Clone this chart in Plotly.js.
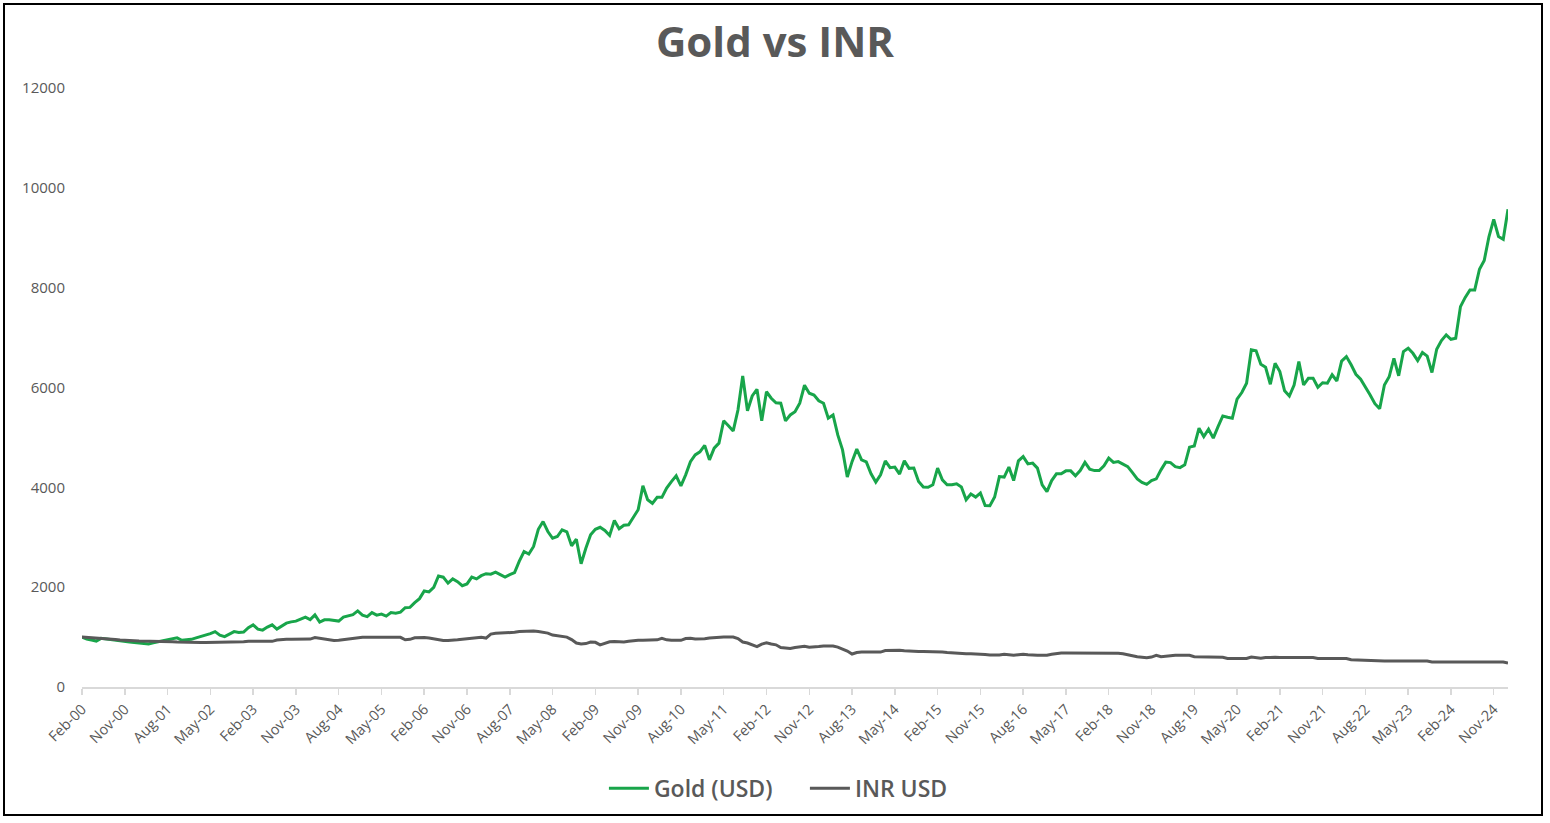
<!DOCTYPE html>
<html>
<head>
<meta charset="utf-8">
<script src="https://cdn.plot.ly/plotly-3.0.1.min.js"></script>
<style>
  html, body { margin: 0; padding: 0; background: #fff; }
  #frame {
    position: absolute; left: 3px; top: 3px;
    width: 1540px; height: 813px;
    border: 2px solid #000; box-sizing: border-box;
  }
  #chart { position: absolute; left: 0; top: 0; width: 1550px; height: 823px; }
</style>
</head>
<body>
<div id="chart"></div>
<div id="frame"></div>
<script>
// monthly series, Feb-2000 .. Feb-2025, both rebased to 1000
const startYear = 2000;
const startMonth = 1; // Feb
const monthNames = ['Jan', 'Feb', 'Mar', 'Apr', 'May', 'Jun', 'Jul', 'Aug', 'Sep', 'Oct', 'Nov', 'Dec'];

const goldUsd = [
    1000, 960, 940, 920, 975, 960, 945, 930, 920, 910,
    900, 890, 880, 865, 860, 885, 905, 925, 945, 975,
    985, 935, 940, 955, 985, 1010, 1040, 1070, 1110, 1040,
    1010, 1060, 1110, 1090, 1100, 1190, 1245, 1160, 1140, 1200,
    1245, 1160, 1220, 1280, 1305, 1320, 1360, 1400, 1350, 1445,
    1300, 1345, 1345, 1330, 1320, 1400, 1420, 1450, 1525, 1440,
    1410, 1490, 1440, 1460, 1420, 1490, 1480, 1500, 1590, 1595,
    1690, 1770, 1925, 1905, 1995, 2225, 2200, 2080, 2165, 2110,
    2030, 2065, 2200, 2165, 2230, 2270, 2260, 2300, 2250, 2200,
    2250, 2290, 2520, 2715, 2665, 2815, 3160, 3315, 3115, 2980,
    3015, 3150, 3110, 2830, 2960, 2470, 2780, 3050, 3160, 3200,
    3135, 3035, 3335, 3170, 3240, 3250, 3400, 3550, 4030, 3750,
    3680, 3800, 3800, 3985, 4115, 4230, 4030, 4250, 4515, 4650,
    4710, 4840, 4550, 4785, 4885, 5335, 5235, 5130, 5550, 6230,
    5535, 5830, 5965, 5335, 5915, 5785, 5695, 5685, 5330, 5450,
    5515, 5685, 6045, 5885, 5850, 5735, 5685, 5385, 5450, 5050,
    4750, 4205, 4515, 4765, 4550, 4510, 4270, 4105, 4250, 4530,
    4395, 4405, 4265, 4530, 4380, 4385, 4115, 4005, 4000, 4050,
    4385, 4150, 4050, 4050, 4070, 4005, 3750, 3865, 3805, 3885,
    3635, 3630, 3805, 4215, 4205, 4405, 4135, 4530, 4615, 4470,
    4485, 4385, 4050, 3915, 4135, 4270, 4270, 4330, 4330, 4230,
    4335, 4500, 4365, 4335, 4335, 4430, 4585, 4500, 4515, 4470,
    4415, 4295, 4170, 4100, 4060, 4135, 4170, 4350, 4505, 4495,
    4415, 4395, 4450, 4805, 4830, 5185, 5015, 5165, 4985, 5215,
    5430, 5405, 5385, 5765, 5900, 6085, 6755, 6735, 6465, 6405,
    6065, 6485, 6320, 5935, 5830, 6050, 6520, 6050, 6185, 6185,
    6005, 6095, 6085, 6255, 6130, 6530, 6620, 6455, 6265, 6165,
    6020, 5850, 5675, 5575, 6050, 6215, 6585, 6235, 6720, 6785,
    6685, 6540, 6700, 6630, 6300, 6765, 6940, 7055, 6965, 6985,
    7620, 7805, 7955, 7955, 8370, 8545, 9025, 9370, 9025, 8970,
    9570
];

const inrUsd = [
    1000, 995, 990, 985, 975, 970, 960, 950, 940, 930,
    925, 925, 920, 920, 915, 915, 915, 910, 910, 905,
    900, 895, 890, 890, 890, 890, 890, 890, 890, 890,
    890, 890, 890, 890, 905, 915, 915, 915, 915, 915,
    915, 940, 955, 955, 955, 955, 955, 955, 960, 990,
    975, 955, 940, 930, 935, 950, 960, 980, 995, 995,
    995, 995, 995, 995, 995, 995, 995, 995, 945, 955,
    985, 995, 990, 980, 965, 935, 930, 930, 930, 945,
    955, 965, 970, 975, 995, 980, 1060, 1075, 1080, 1080,
    1080, 1095, 1110, 1115, 1120, 1120, 1110, 1100, 1080, 1040,
    1025, 1020, 1000, 950, 880, 860, 870, 900, 895, 845,
    870, 905, 910, 905, 900, 915, 930, 935, 935, 935,
    935, 945, 975, 945, 935, 935, 935, 970, 975, 960,
    955, 965, 980, 990, 1000, 1000, 1000, 1000, 970, 900,
    880, 850, 810, 860, 885, 860, 845, 790, 775, 770,
    790, 805, 815, 795, 795, 810, 820, 820, 820, 800,
    760, 720, 660, 690, 700, 700, 700, 700, 700, 730,
    735, 735, 735, 725, 715, 710, 710, 710, 710, 710,
    710, 700, 690, 680, 675, 670, 665, 665, 665, 660,
    650, 640, 635, 640, 655, 645, 635, 645, 655, 645,
    635, 635, 635, 635, 655, 675, 682, 682, 682, 682,
    682, 682, 682, 682, 682, 682, 682, 682, 675, 665,
    650, 625, 605, 590, 585, 600, 635, 605, 615, 635,
    635, 635, 635, 635, 605, 605, 605, 605, 605, 600,
    595, 570, 570, 570, 570, 570, 600, 590, 575, 590,
    600, 595, 590, 590, 590, 590, 590, 590, 590, 590,
    570, 570, 570, 570, 570, 570, 570, 545, 540, 540,
    540, 540, 522, 522, 522, 522, 522, 522, 522, 522,
    522, 522, 522, 522, 502, 502, 502, 502, 502, 502,
    502, 502, 502, 502, 502, 502, 502, 502, 502, 500,
    480
];

const tickLabels = [
    'Feb-00', 'Nov-00', 'Aug-01', 'May-02', 'Feb-03', 'Nov-03', 'Aug-04', 'May-05',
    'Feb-06', 'Nov-06', 'Aug-07', 'May-08', 'Feb-09', 'Nov-09', 'Aug-10', 'May-11',
    'Feb-12', 'Nov-12', 'Aug-13', 'May-14', 'Feb-15', 'Nov-15', 'Aug-16', 'May-17',
    'Feb-18', 'Nov-18', 'Aug-19', 'May-20', 'Feb-21', 'Nov-21', 'Aug-22', 'May-23',
    'Feb-24', 'Nov-24'
];

const months = goldUsd.map(function (v, i) {
    const m = startMonth + i;
    const yy = (startYear + Math.floor(m / 12)) % 100;
    return monthNames[m % 12] + '-' + String(yy).padStart(2, '0');
});

const textColor = '#595959';
const font = 'Open Sans, Lato, sans-serif';

const goldSeries = {
    type: 'scatter',
    mode: 'lines',
    name: 'Gold (USD)',
    x: months,
    y: goldUsd,
    line: {color: '#18a54a', width: 3},
};

const inrSeries = {
    type: 'scatter',
    mode: 'lines',
    name: 'INR USD',
    x: months,
    y: inrUsd.slice(0, months.length),
    line: {color: '#595959', width: 3},
};

const layout = {
    width: 1550,
    height: 823,
    paper_bgcolor: '#fff',
    plot_bgcolor: '#fff',
    margin: {l: 82, r: 42, t: 88, b: 136, pad: 0},
    font: {family: font, color: textColor},
    title: {
        text: '<b>Gold vs INR</b>',
        font: {family: font, size: 42, color: textColor},
        x: 0.5,
        xref: 'container',
        xanchor: 'center',
        y: 0.948,
        yref: 'container',
        yanchor: 'middle',
    },
    xaxis: {
        type: 'category',
        range: [0, months.length - 1],
        tickmode: 'array',
        tickvals: tickLabels,
        ticktext: tickLabels,
        tickangle: -45,
        ticks: 'outside',
        ticklen: 6,
        tickcolor: '#d9d9d9',
        tickwidth: 1.5,
        showline: true,
        linecolor: '#d9d9d9',
        linewidth: 2,
        showgrid: false,
        zeroline: false,
        tickfont: {family: font, size: 14.5, color: textColor},
    },
    yaxis: {
        range: [0, 12000],
        dtick: 2000,
        tickformat: 'd',
        showgrid: false,
        zeroline: false,
        showline: false,
        ticks: '',
        ticklabelstandoff: 16,
        tickfont: {family: font, size: 15, color: textColor},
    },
    showlegend: true,
    legend: {
        orientation: 'h',
        x: 0.366,
        xanchor: 'left',
        y: -0.169,
        yanchor: 'middle',
        entrywidth: 146,
        entrywidthmode: 'pixels',
        font: {family: font, size: 23, color: textColor, weight: 600},
        itemwidth: 40,
    },
};

Plotly.newPlot('chart', [goldSeries, inrSeries], layout, {displayModeBar: false, staticPlot: true});
</script>
</body>
</html>
